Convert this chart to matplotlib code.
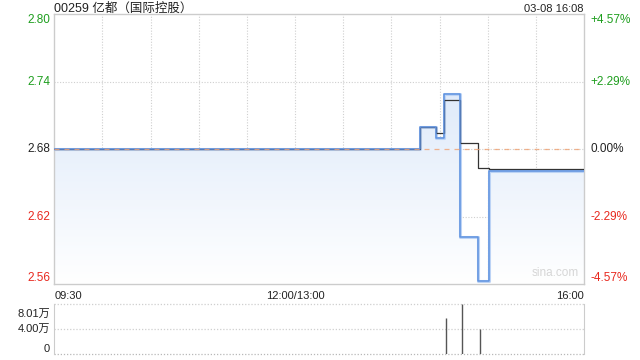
import numpy as np
import matplotlib
matplotlib.use("Agg")
import matplotlib.pyplot as plt
from matplotlib.colors import LinearSegmentedColormap

plt.rcParams['font.family'] = ['Liberation Sans', 'Noto Sans CJK SC', 'DejaVu Sans']

# minutes since 09:30 (lunch break removed), 330 = 16:00
price_t = [0, 228, 238, 243, 253, 264, 271, 330]
price_v = [2.68, 2.70, 2.69, 2.73, 2.60, 2.56, 2.66, 2.66]
avg_t = [0, 228, 238, 243, 253, 264, 271, 330]
avg_v = [2.68, 2.70, 2.695, 2.7245, 2.686, 2.663, 2.662, 2.662]
vol_t = [228, 238, 244, 254, 265, 271]
vol_v = [0.03, 0.03, 5.80, 8.01, 3.95, 0.03]  # 万

prev_close = 2.68
pct = 0.0457
y_lo, y_hi = prev_close * (1 - pct), prev_close * (1 + pct)
price_ticks = [2.80, 2.74, 2.68, 2.62, 2.56]
pct_labels = ['+4.57%', '+2.29%', '0.00%', '-2.29%', '-4.57%']
tick_colors = ['#1e9e1e', '#1e9e1e', '#222222', '#e8281e', '#e8281e']
x_labels = ['09:30', '12:00/13:00', '16:00']

grid_c = '#cfcfcf'
border_c = '#cccccc'

fig = plt.figure(figsize=(6.4, 3.6), dpi=100)
ax = fig.add_axes([0.0848, 0.2111, 0.8277, 0.7492])
vax = fig.add_axes([0.0848, 0.0167, 0.8277, 0.1380])

# main price panel
ax.set_xlim(0, 330)
ax.set_ylim(y_lo, y_hi)
for s in ax.spines.values():
    s.set_color(border_c)
    s.set_linewidth(1)
for t in range(30, 330, 30):
    ax.axvline(t, color=grid_c, lw=0.8, ls=(0, (1, 1.5)), zorder=0)
for i in range(1, 4):
    yv = y_lo + (y_hi - y_lo) * i / 4
    ax.axhline(yv, color=grid_c, lw=0.8, ls=(0, (1, 1.5)), zorder=0)

coll = ax.fill_between(price_t, price_v, y_lo, step='post', facecolor='none', edgecolor='none')
cmap = LinearSegmentedColormap.from_list('fade', ['#ffffff', '#d2e2f8'])
grad = np.linspace(0, 1, 256).reshape(-1, 1)
im = ax.imshow(grad, extent=[0, 330, y_lo, y_hi], aspect='auto', origin='lower',
               cmap=cmap, zorder=1, interpolation='bilinear')
im.set_clip_path(coll.get_paths()[0], transform=ax.transData)

ax.step(price_t, price_v, where='post', color='#bcd3f5', lw=2.2, zorder=3)
ax.step(avg_t, avg_v, where='post', color='#333333', lw=0.9, zorder=4)
ax.step(price_t, price_v, where='post', color='#5f92e0', lw=1.1, zorder=5)
ax.axhline(prev_close, color='#f0a070', lw=0.9, ls=(0, (4, 4)), zorder=6, alpha=0.8)

ax.set_xticks([])
ax.set_yticks([])
tick_pos = [y_lo + (y_hi - y_lo) * i / 4 for i in range(4, -1, -1)]
vas = ['top', 'center', 'center', 'center', 'bottom']
for yv, lab, plab, c, va in zip(tick_pos, price_ticks, pct_labels, tick_colors, vas):
    ax.text(-0.008, yv, f'{lab:.2f}', transform=ax.get_yaxis_transform(),
            ha='right', va=va, fontsize=8.5, color=c)
    ax.text(1.012, yv, plab, transform=ax.get_yaxis_transform(),
            ha='left', va=va, fontsize=8.5, color=c)

fig.text(0.0848, 1 - 8.5 / 360, '00259 亿都（国际控股）',
         ha='left', va='center', fontsize=9, color='#222222')
fig.text(0.9125, 1 - 8.5 / 360, '03-08 16:08',
         ha='right', va='center', fontsize=8, color='#222222')
ax.text(0.99, 0.02, 'sina.com', transform=ax.transAxes,
        ha='right', va='bottom', fontsize=8.5, color='#d6d6d6')

ax.text(0, -0.025, x_labels[0], transform=ax.transAxes, ha='left', va='top', fontsize=8, color='#222222')
ax.text(150 / 330, -0.025, x_labels[1], transform=ax.transAxes, ha='center', va='top', fontsize=8, color='#222222')
ax.text(1, -0.025, x_labels[2], transform=ax.transAxes, ha='right', va='top', fontsize=8, color='#222222')

# volume panel
vax.set_xlim(0, 330)
vax.set_ylim(0, 8.01)
for k in ['top', 'bottom']:
    vax.spines[k].set_visible(False)
for k in ['left', 'right']:
    vax.spines[k].set_color(border_c)
for yv in [0, 4.0, 8.01]:
    vax.axhline(yv, color='#b8b8b8' if yv == 0 else grid_c, lw=0.9, ls=(0, (1, 1.5)), zorder=0,
                clip_on=False)
vax.vlines(vol_t, 0, vol_v, color='#555555', lw=1.0, zorder=2)
vax.set_xticks([])
vax.set_yticks([])
for yv, lab, va in zip([8.01, 4.0, 0], ['8.01万', '4.00万', '0'], ['top', 'center', 'bottom']):
    off = -0.7 if va == 'top' else 0
    vax.text(-0.008, yv + off, lab, transform=vax.get_yaxis_transform(),
             ha='right', va=va, fontsize=8, color='#222222')

fig.savefig('out.png', dpi=100)
